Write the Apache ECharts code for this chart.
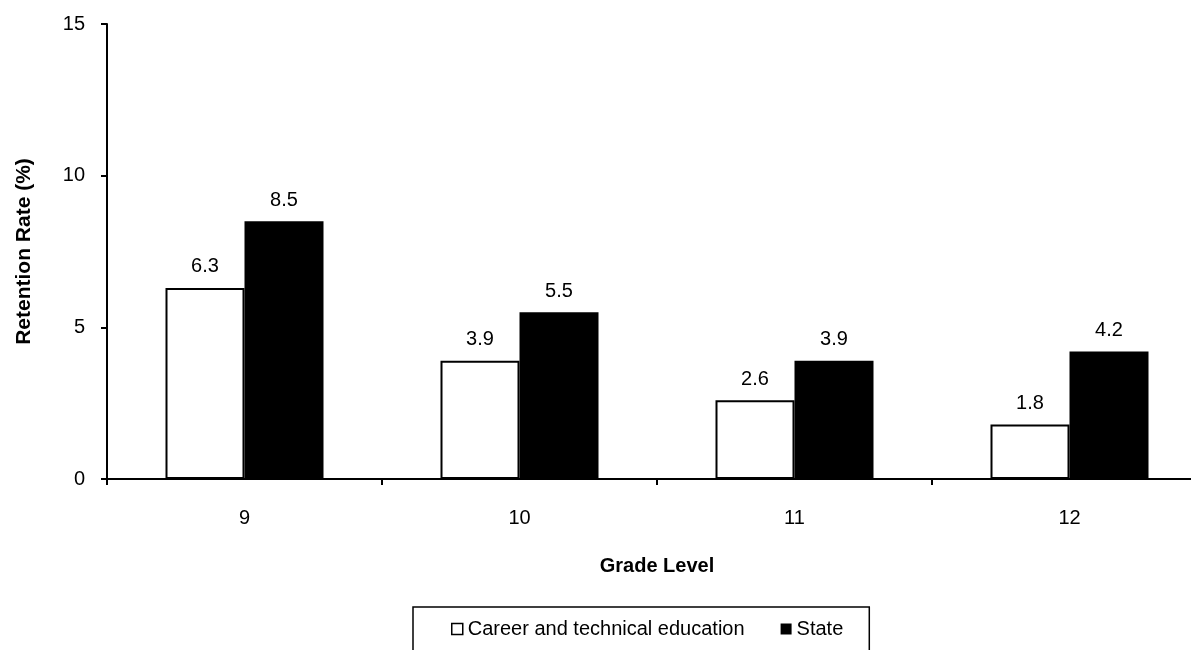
<!DOCTYPE html>
<html>
<head>
<meta charset="utf-8">
<script src="https://cdn.jsdelivr.net/npm/echarts@6/dist/echarts.min.js"></script>
<style>
html,body{margin:0;padding:0;background:#fff;}
#c{width:1191px;height:650px;}
</style>
</head>
<body>
<div id="c"></div>
<script>
var categories = ['9', '10', '11', '12'];
var careerTech = [6.3, 3.9, 2.6, 1.8];
var stateVals = [8.5, 5.5, 3.9, 4.2];
var seriesNames = ['Career and technical education', 'State'];
var yTicks = [0, 5, 10, 15];

var FONT = "'Liberation Sans', Arial, sans-serif";
var chart = echarts.init(document.getElementById('c'), null, {renderer: 'canvas'});
chart.setOption({
  animation: false,
  backgroundColor: '#fff',
  grid: {left: 107, width: 1100, top: 24, height: 455, containLabel: false, outerBoundsMode: 'none'},
  legend: {
    data: [
      {name: seriesNames[0], icon: 'rect', itemStyle: {color: '#fff', borderColor: '#000', borderWidth: 1.5}},
      {name: seriesNames[1], icon: 'rect', itemStyle: {color: '#000'}}
    ],
    left: 413, top: 607,
    itemWidth: 11, itemHeight: 11, itemGap: 36,
    padding: [12, 26, 14, 38],
    borderColor: '#000', borderWidth: 1.5,
    textStyle: {fontFamily: FONT, fontSize: 20, color: '#000'}
  },
  xAxis: {
    type: 'category',
    data: categories,
    name: 'Grade Level',
    nameLocation: 'middle',
    nameGap: 77,
    nameTextStyle: {fontFamily: FONT, fontSize: 20, fontWeight: 'bold', color: '#000'},
    axisLine: {lineStyle: {color: '#000', width: 2}},
    axisTick: {show: true, alignWithLabel: false, length: 6, lineStyle: {color: '#000', width: 2}},
    axisLabel: {fontFamily: FONT, fontSize: 20, color: '#000', margin: 29}
  },
  yAxis: {
    type: 'value',
    min: 0, max: 15, interval: 5,
    name: 'Retention Rate (%)',
    nameLocation: 'middle',
    nameGap: 72,
    nameRotate: 90,
    nameTextStyle: {fontFamily: FONT, fontSize: 21, fontWeight: 'bold', color: '#000'},
    axisLine: {show: true, lineStyle: {color: '#000', width: 2}},
    axisTick: {show: true, length: 6, lineStyle: {color: '#000', width: 2}},
    splitLine: {show: false},
    axisLabel: {fontFamily: FONT, fontSize: 20, color: '#000', margin: 22,
      formatter: function (v) { return yTicks.indexOf(v) >= 0 ? String(v) : ''; }}
  },
  series: [
    {
      name: seriesNames[0], type: 'bar', data: careerTech,
      barWidth: 79, barGap: '0%',
      itemStyle: {color: '#fff', borderColor: '#000', borderWidth: 2},
      label: {show: true, position: 'top', distance: 11, fontFamily: FONT, fontSize: 20, color: '#000',
        formatter: function (p) { return p.value.toFixed(1); }}
    },
    {
      name: seriesNames[1], type: 'bar', data: stateVals,
      barWidth: 79, barGap: '0%',
      itemStyle: {color: '#000', borderColor: '#000', borderWidth: 0},
      label: {show: true, position: 'top', distance: 11, fontFamily: FONT, fontSize: 20, color: '#000',
        formatter: function (p) { return p.value.toFixed(1); }}
    }
  ]
});
</script>
</body>
</html>
